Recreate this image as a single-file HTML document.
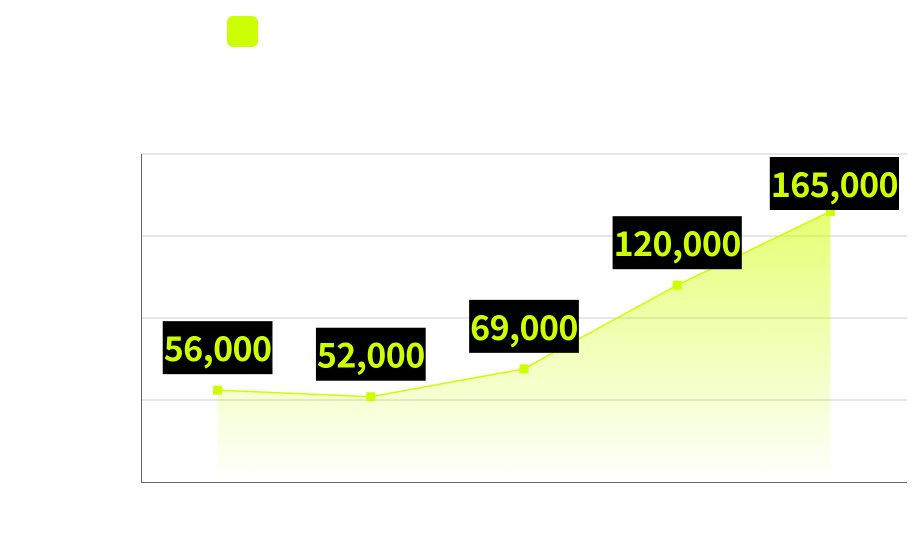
<!DOCTYPE html>
<html><head><meta charset="utf-8"><style>
body{margin:0;background:#fff;width:919px;height:540px;overflow:hidden}
svg{display:block}
</style></head><body>
<svg id="c" width="919" height="540">
<defs><linearGradient id="g" x1="0" y1="0" x2="0" y2="1">
<stop offset="0" stop-color="#ccff00" stop-opacity="0.55"/>
<stop offset="1" stop-color="#ccff00" stop-opacity="0.02"/></linearGradient></defs>
<rect x="227" y="16" width="31" height="31" rx="6" fill="#ccff00"/>
</svg>
<script>
const categories=["A","B","C","D","E"];
const values=[56000,52000,69000,120000,165000];
const labels=["56,000","52,000","69,000","120,000","165,000"];
const gridTicks=[0,50000,100000,150000,200000];
const L=141,R=907,T=154,B=482,MAX=200000;
const ns="http://www.w3.org/2000/svg",svg=document.getElementById('c');
const band=(R-L)/categories.length;
const x=i=>L+band*(i+0.5);
const y=v=>B-(v/MAX)*(B-T);
function mk(t,a,p){const e=document.createElementNS(ns,t);for(const k in a)e.setAttribute(k,a[k]);(p||svg).appendChild(e);return e;}
gridTicks.forEach(v=>{if(v===0)return;const g=mk('line',{x1:L,x2:R,y1:y(v),y2:y(v),stroke:'#cccccc','stroke-width':1});

});
let pts=values.map((v,i)=>x(i)+','+y(v)).join(' ');
const area=mk('polygon',{points:x(0)+','+(B-6)+' '+pts+' '+x(values.length-1)+','+(B-6),fill:'url(#g)'});


const line=mk('polyline',{points:pts,fill:'none',stroke:'#ccff00','stroke-width':1.5});


const ax=mk('path',{d:`M${L+0.5},${T} V${B+0.5} H${R}`,fill:'none',stroke:'#666','stroke-width':1});


values.forEach((v,i)=>{
const m=mk('rect',{x:x(i)-4.5,y:y(v)-4.5,width:9,height:9,fill:'#ccff00'});


const g=mk('g',{});


const top=Math.max(T+3,y(v)-69);
const t=mk('text',{x:x(i)+(i===values.length-1?4:0),y:top+40,'text-anchor':'middle',fill:'#ccff00','font-family':'Noto Sans CJK JP, Liberation Sans, sans-serif','font-size':34,'font-weight':'bold','letter-spacing':-0.6},g);
t.textContent=labels[i];
const bb=t.getBBox();
const r=mk('rect',{x:bb.x-1,y:top,width:bb.width+2,height:53,fill:'#000'});
g.insertBefore(r,t);
});
</script>
</body></html>
